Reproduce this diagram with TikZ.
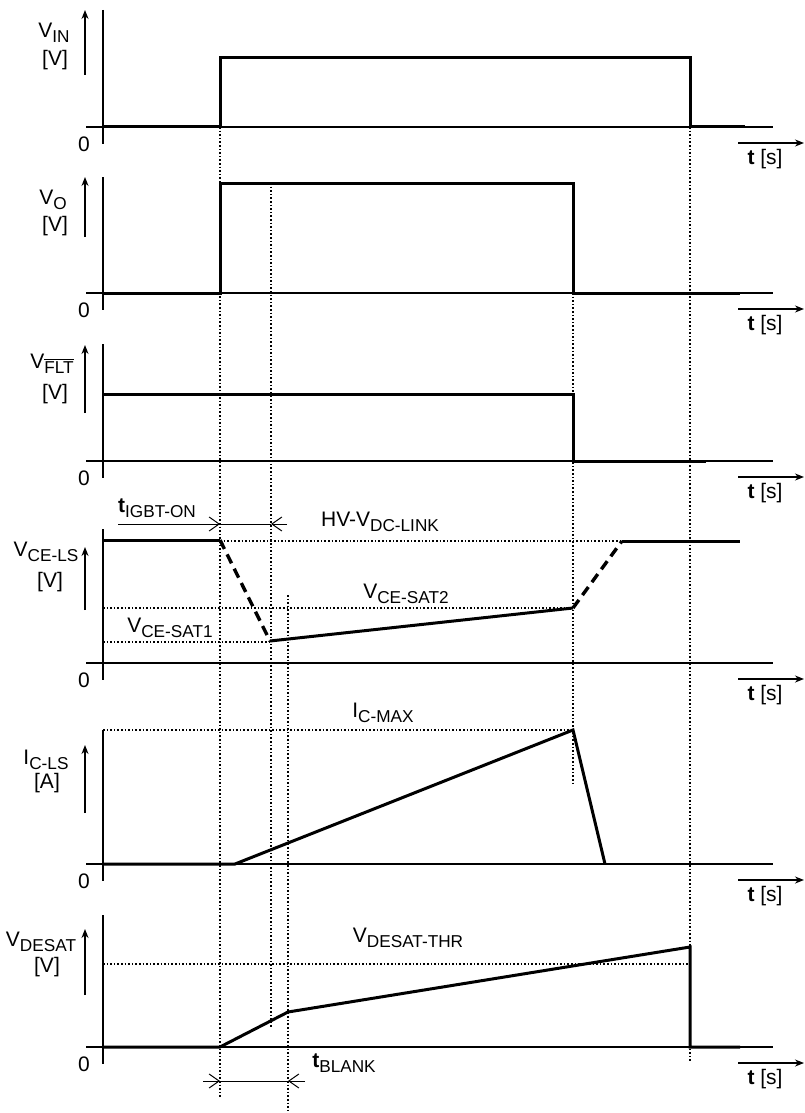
\documentclass[tikz,border=0pt]{standalone}
\usepackage{fontspec}
\setmainfont{Liberation Sans}
\usetikzlibrary{arrows.meta,positioning}

\newcommand{\subfont}{\fontsize{8.6}{10}\selectfont}
\newcommand{\sgl}[2]{#1\raisebox{-0.45ex}{\subfont #2}}

\begin{document}
\begin{tikzpicture}[x=0.5pt,y=-0.5pt,>={Stealth[length=4.5pt,width=3.5pt]},
	lbl/.style={font=\fontsize{10.5}{12}\selectfont,inner sep=0pt},
	wave/.style={line width=1.5pt,line join=miter},
	dashwave/.style={line width=1.7pt,dash pattern=on 5pt off 3pt},
	axis/.style={line width=0.7pt},
	guide/.style={line width=0.8pt,dash pattern=on 0.8pt off 1pt},
	dim/.style={line width=0.5pt,-{Straight Barb[length=5pt,width=7pt]}}]

\useasboundingbox (0,0) rectangle (804,1113);

%guides
\draw[guide] (220,127) -- (220,1097);
\draw[guide] (271,183) -- (271,1027);
\draw[guide] (288,595) -- (288,1110);
\draw[guide] (573,293) -- (573,785);
\draw[guide] (690,127) -- (690,1062);
\draw[guide] (220,541) -- (622,541);
\draw[guide] (103,608) -- (573,608);
\draw[guide] (103,642) -- (270,642);
\draw[guide] (103,730) -- (573,730);
\draw[guide] (103,964) -- (690,964);

%axes
\foreach \ya/\yb/\ay/\by in {10/127/10/75, 177/293/177/237, 344/461/345/413, 529/663/547/610, 730/864/745/813, 915/1047/929/995}
{
	\draw[axis] (103,\ya) -- (103,\yb+17);
	\draw[axis] (86,\yb) -- (773,\yb);
	\draw[axis,->] (85,\by) -- (85,\ay);
	\draw[axis,->] (738,\yb+16) -- (804,\yb+16);
	\node[lbl] at (84,\yb+17) {0};
	\node[lbl] at (765,\yb+32) {\textbf{t} [s]};
}

%axis labels
\node[lbl] (vin)   at (54,33)   {\sgl{V}{IN}};
\node[lbl] (vinu)  at (55,60)   {[V]};
\node[lbl] (vo)    at (53,200)  {\sgl{V}{O}};
\node[lbl] (vou)   at (55,226)  {[V]};
\node[lbl] (vflt)  at (52,364)  {V\raisebox{-0.45ex}{\subfont$\overline{\hbox{FLT}}$}};
\node[lbl] (vfltu) at (55,394)  {[V]};
\node[lbl] (vce)   at (46,552)  {\sgl{V}{CE-LS}};
\node[lbl] (vceu)  at (50,582)  {[V]};
\node[lbl] (ic)    at (46,760)  {\sgl{I}{C-LS}};
\node[lbl] (icu)   at (47,783)  {[A]};
\node[lbl] (vds)   at (41,942)  {\sgl{V}{DESAT}};
\node[lbl] (vdsu)  at (47,967)  {[V]};

%levels
\node[lbl] (hv)    at (380,522) {HV-\sgl{V}{DC-LINK}};
\node[lbl] (sat2)  at (406,594) {\sgl{V}{CE-SAT2}};
\node[lbl] (sat1)  at (170,628) {\sgl{V}{CE-SAT1}};
\node[lbl] (icmax) at (383,713) {\sgl{I}{C-MAX}};
\node[lbl] (thr)   at (408,938) {\sgl{V}{DESAT-THR}};

%waves
\draw[wave] (103,127) -- (220,127) -- (220,58) -- (690,58) -- (690,127) -- (745,127);
\draw[wave] (103,293) -- (220,293) -- (220,183) -- (573,183) -- (573,293) -- (740,293);
\draw[wave] (103,394) -- (573,394) -- (573,461) -- (706,461);
\draw[wave] (103,540) -- (220,540);
\draw[dashwave] (220,540) -- (270,641);
\draw[wave] (270,641) -- (573,608);
\draw[dashwave] (573,608) -- (622,541);
\draw[wave] (622,541) -- (740,541);
\draw[wave] (103,864) -- (235,864) -- (573,730) -- (605,864);
\draw[wave] (103,1047) -- (220,1047) -- (288,1012) -- (690,947) -- (690,1047) -- (740,1047);

%times
\coordinate (on1) at (220,524);
\coordinate (on2) at (271,524);
\node[lbl] (ton) at (157,508) {\sgl{\textbf{t}}{IGBT-ON}};
\draw[dim] (118,524) -- (on1);
\draw[line width=0.5pt] (on1) -- (on2);
\draw[dim] (287,524) -- (on2);

\coordinate (bl1) at (220,1081);
\coordinate (bl2) at (288,1081);
\node[lbl] (tbl) at (344,1063) {\sgl{\textbf{t}}{BLANK}};
\draw[dim] (203,1081) -- (bl1);
\draw[line width=0.5pt] (bl1) -- (bl2);
\draw[dim] (305,1081) -- (bl2);

\end{tikzpicture}
\end{document}
